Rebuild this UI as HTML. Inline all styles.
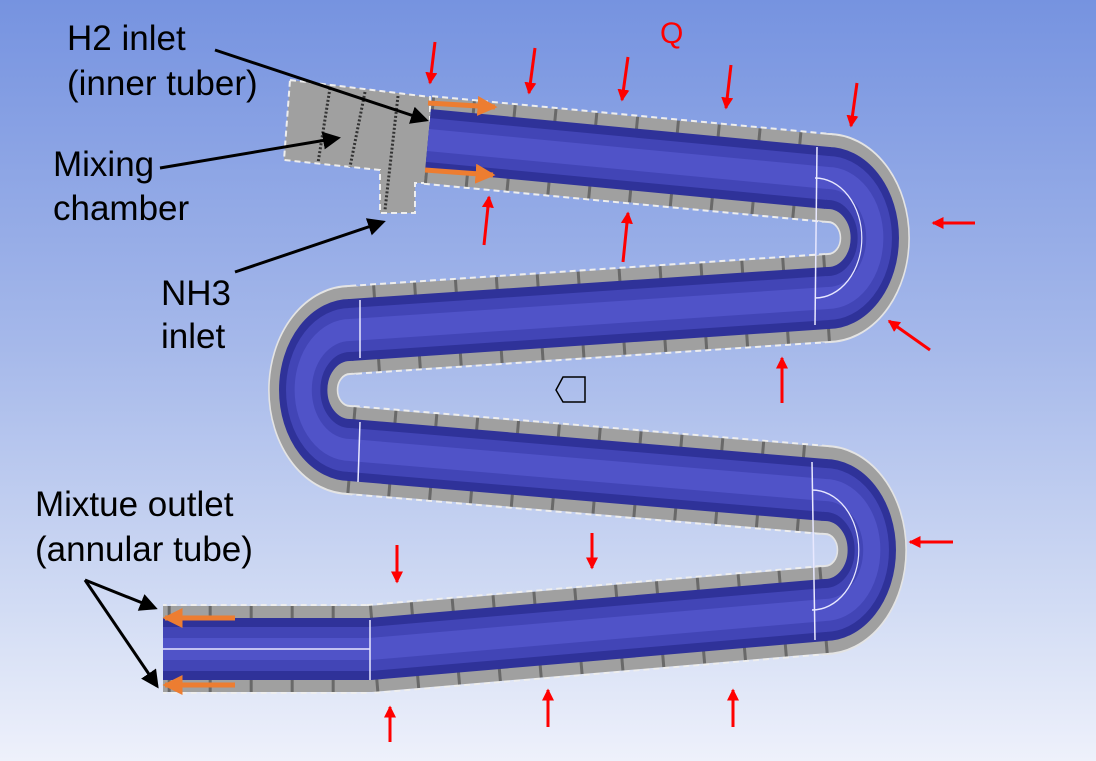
<!DOCTYPE html>
<html><head><style>
html,body{margin:0;padding:0;width:1096px;height:761px;overflow:hidden}
body{background:linear-gradient(180deg,#7693e0 0%,#a5b8ea 45%,#d2dcf4 80%,#eef1fb 100%);font-family:"Liberation Sans",sans-serif}
.t{position:absolute;font-size:35px;color:#000;line-height:1;white-space:nowrap}
</style></head><body>
<svg width="1096" height="761" style="position:absolute;left:0;top:0">
<defs>
<marker id="bk" markerWidth="6" markerHeight="6" refX="5" refY="3" orient="auto" markerUnits="strokeWidth"><path d="M0,0 L6,3 L0,6 z" fill="#000"/></marker>
<marker id="rd" markerWidth="4" markerHeight="4" refX="3.5" refY="2" orient="auto" markerUnits="strokeWidth"><path d="M0,0 L4,2 L0,4 z" fill="#f00"/></marker>
<marker id="or" markerWidth="4" markerHeight="4" refX="3.5" refY="2" orient="auto" markerUnits="strokeWidth"><path d="M0,0 L4,2 L0,4 z" fill="#ed7d31"/></marker>
<path id="geoS" fill="none" d="M428,140 L828,178 M828,298 L350,330 M350,450 L825,490 M825,610 L370,649 L163,649"/>
<g id="geoB" fill="none" stroke-linecap="round">
<path transform="translate(828,238) scale(0.78,1)" d="M0,-60 A60,60 0 0 1 0,60"/>
<path transform="translate(350,390) scale(0.78,1)" d="M0,-60 A60,60 0 0 0 0,60"/>
<path transform="translate(825,550) scale(0.78,1)" d="M0,-60 A60,60 0 0 1 0,60"/>
</g>
</defs>
<!-- mixing chamber -->
<polygon points="290,80 430,97 430,183 415,183 415,213 380,213 380,170 284,160" fill="#a0a0a0" stroke="#eee" stroke-width="2" stroke-dasharray="6,4"/>
<g stroke="#333" stroke-width="3" stroke-dasharray="2,2">
<line x1="330" y1="88" x2="318" y2="163"/><line x1="365" y1="92" x2="350" y2="167"/><line x1="398" y1="96" x2="385" y2="210"/>
</g>
<!-- tube -->
<use href="#geoS" stroke="#eee" stroke-width="90" stroke-dasharray="6,4"/>
<use href="#geoB" stroke="#e4e4e4" stroke-width="90"/>
<use href="#geoS" stroke="#a0a0a0" stroke-width="86"/>
<use href="#geoB" stroke="#a0a0a0" stroke-width="86"/>
<use href="#geoS" stroke="#444" stroke-width="86" stroke-dasharray="3,38" opacity="0.6"/>
<use href="#geoS" stroke="#2f3299" stroke-width="62"/><use href="#geoB" stroke="#2f3299" stroke-width="62"/>
<use href="#geoS" stroke="#4245b6" stroke-width="44"/><use href="#geoB" stroke="#4245b6" stroke-width="44"/>
<use href="#geoS" stroke="#5053c8" stroke-width="22"/><use href="#geoB" stroke="#5053c8" stroke-width="22"/>
<!-- seams -->
<g stroke="#e8e8ff" stroke-width="1.5" fill="none">
<line x1="817" y1="147" x2="815" y2="325"/><line x1="360" y1="300" x2="360" y2="358"/><line x1="360" y1="422" x2="358" y2="482"/>
<line x1="812" y1="462" x2="815" y2="640"/><line x1="370" y1="620" x2="370" y2="680"/><line x1="163" y1="649" x2="370" y2="649"/>
<path transform="translate(815,238) scale(0.78,1)" d="M0,-60 A60,60 0 0 1 0,60"/>
<path transform="translate(812,550) scale(0.78,1)" d="M0,-60 A60,60 0 0 1 0,60"/>
</g>
<!-- icon -->
<path d="M556,390 L563,377 L585,377 L585,402 L563,402 Z" fill="none" stroke="#000" stroke-width="1.5"/>
<!-- black arrows -->
<g stroke="#000" stroke-width="3" marker-end="url(#bk)">
<line x1="215" y1="50" x2="426" y2="120"/><line x1="160" y1="168" x2="338" y2="138"/>
<line x1="235" y1="272" x2="383" y2="222"/><line x1="85" y1="580" x2="155" y2="608"/><line x1="85" y1="580" x2="157" y2="686"/>
</g>
<!-- orange -->
<g stroke="#ed7d31" stroke-width="5" marker-end="url(#or)">
<line x1="428" y1="103" x2="495" y2="107"/><line x1="425" y1="170" x2="493" y2="175"/>
<line x1="235" y1="618" x2="165" y2="618"/><line x1="235" y1="685" x2="165" y2="685"/>
</g>
<!-- red -->
<g stroke="#f00" stroke-width="3" marker-end="url(#rd)">
<line x1="435" y1="42" x2="430" y2="83"/><line x1="535" y1="48" x2="529" y2="93"/><line x1="628" y1="57" x2="622" y2="100"/>
<line x1="731" y1="65" x2="726" y2="108"/><line x1="857" y1="83" x2="851" y2="126"/>
<line x1="484" y1="245" x2="489" y2="197"/><line x1="623" y1="262" x2="628" y2="213"/><line x1="782" y1="403" x2="782" y2="358"/>
<line x1="975" y1="223" x2="933" y2="223"/><line x1="953" y1="542" x2="910" y2="542"/><line x1="930" y1="350" x2="889" y2="321"/>
<line x1="397" y1="545" x2="397" y2="582"/><line x1="592" y1="533" x2="592" y2="568"/>
<line x1="390" y1="742" x2="390" y2="707"/><line x1="548" y1="727" x2="548" y2="690"/><line x1="733" y1="727" x2="733" y2="690"/>
</g>
</svg>
<div class="t" style="left:67px;top:21px">H2 inlet</div>
<div class="t" style="left:67px;top:66px">(inner tuber)</div>
<div class="t" style="left:53px;top:147px">Mixing</div>
<div class="t" style="left:53px;top:191px">chamber</div>
<div class="t" style="left:161px;top:276px">NH3</div>
<div class="t" style="left:161px;top:319px">inlet</div>
<div class="t" style="left:35px;top:487px">Mixtue outlet</div>
<div class="t" style="left:35px;top:532px">(annular tube)</div>
<div class="t" style="left:660px;top:19px;color:#f00;font-size:30px">Q</div>
</body></html>
